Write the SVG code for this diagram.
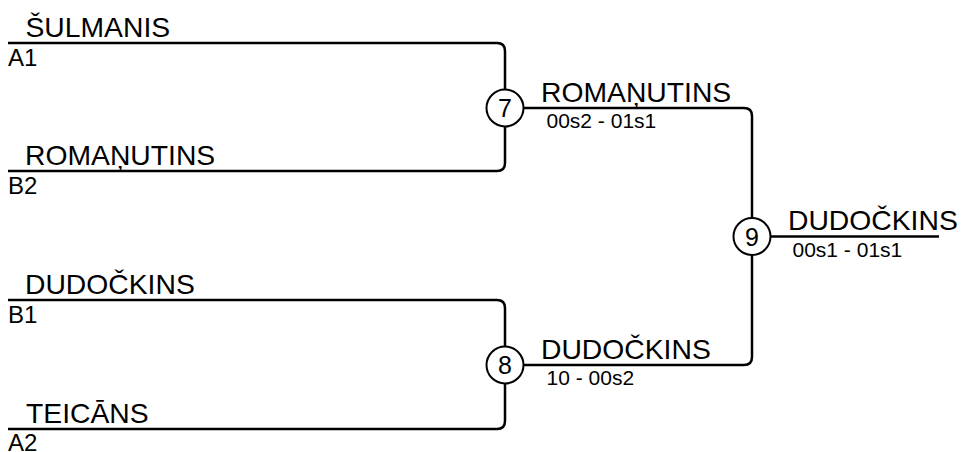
<svg xmlns="http://www.w3.org/2000/svg" width="961" height="452" viewBox="0 0 961 452">
<style>
.ln{fill:none;stroke:#000;stroke-width:2.5;stroke-linejoin:round}
.nm{font-family:"Liberation Sans",Arial,sans-serif;font-size:28.3px;fill:#000}
.lb{font-family:"Liberation Sans",Arial,sans-serif;font-size:24px;fill:#000}
.sc{font-family:"Liberation Sans",Arial,sans-serif;font-size:21px;fill:#000}
.cc{fill:#fff;stroke:#000;stroke-width:2}
.cn{font-family:"Liberation Sans",Arial,sans-serif;font-size:25px;fill:#000;text-anchor:middle}
</style>
<rect width="961" height="452" fill="#fff"/>
<g id="connectors">
<path class="ln" d="M8,43 H497 Q505,43 505,51 V163 Q505,171 497,171 H8"/>
<path class="ln" d="M8,300 H497 Q505,300 505,308 V421 Q505,429 497,429 H8"/>
<path class="ln" d="M505,108 H744 Q752,108 752,116 V357 Q752,365 744,365 H505"/>
<path class="ln" d="M752,236.5 H939"/>
</g>
<g id="entry-a1">
<text class="nm" x="25.5" y="36.5">ŠULMANIS</text>
<text class="lb" x="8" y="66">A1</text>
</g>
<g id="entry-b2">
<text class="nm" x="25" y="164.5">ROMAŅUTINS</text>
<text class="lb" x="8" y="194">B2</text>
</g>
<g id="entry-b1">
<text class="nm" x="25" y="293.5">DUDOČKINS</text>
<text class="lb" x="8" y="323">B1</text>
</g>
<g id="entry-a2">
<text class="nm" x="26" y="422.5">TEICĀNS</text>
<text class="lb" x="8" y="451">A2</text>
</g>
<g id="match-7">
<circle class="cc" cx="505" cy="108" r="18.5"/>
<text class="cn" x="505" y="117">7</text>
<text class="nm" x="541" y="101.5">ROMAŅUTINS</text>
<text class="sc" x="546.5" y="128">00s2 - 01s1</text>
</g>
<g id="match-8">
<circle class="cc" cx="505" cy="365" r="18.5"/>
<text class="cn" x="505" y="374">8</text>
<text class="nm" x="541" y="358.5">DUDOČKINS</text>
<text class="sc" x="546.5" y="385">10 - 00s2</text>
</g>
<g id="match-9">
<circle class="cc" cx="752" cy="236.5" r="18.5"/>
<text class="cn" x="752" y="245.5">9</text>
<text class="nm" x="788" y="230">DUDOČKINS</text>
<text class="sc" x="792.5" y="256.5">00s1 - 01s1</text>
</g>
</svg>
